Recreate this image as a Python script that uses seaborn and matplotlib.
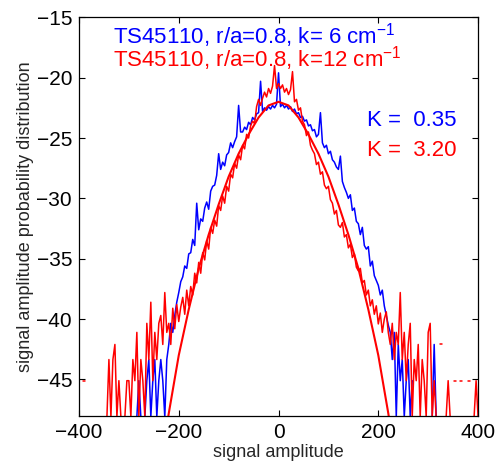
import numpy as np
import pandas as pd
import matplotlib
matplotlib.use("Agg")
import matplotlib.pyplot as plt
import seaborn as sns

# ---------------- data ----------------
# bin centres of the amplitude histogram (signal amplitude)
bin_x = list(range(-400, 401, 4))

# blue: TS45110, r/a=0.8, k=6 cm^-1  (None = empty bin)
blue_pdf = ([None] * 28 +
    [None, -48.1, -45.1, -48.1, None, -48.1, -45.1, -43.35, -48.1, -45.1,
     -43.35, -48.1, -45.1, -43.35, -45.1, -48.1, -43.35, -42.1, -40.35, -41.1,
     -39.7, -38.6] +
    [-37.8, -36.9, -36.5, -35.6, -35.8, -34.6, -34.5, -33.4, -33.9, -30.4,
     -32.6, -31.7, -31.9, -30.8, -30.3, -30.9, -29.4, -29.0, -28.9, -28.1,
     -26.3, -27.6, -27.0, -27.3, -26.4, -26.2, -25.4, -25.8, -25.3, -24.9,
     -22.3, -24.5, -24.5, -24.1, -24.3, -23.7, -23.9, -23.3, -23.5, -23.0,
     -22.9, -20.3, -22.8, -22.5, -22.7, -22.4, -22.6, -22.3, -22.5, -22.2] +
    [-19.6, -22.4, -22.2, -22.5, -22.3, -22.6, -22.4, -22.8, -22.6, -23.0,
     -22.9, -23.3, -23.2, -23.6, -23.5, -24.0, -23.9, -24.4, -24.3, -24.9,
     -24.7, -22.9, -25.4, -25.8, -25.6, -26.3, -26.1, -26.8, -27.0, -27.4,
     -27.6, -26.5, -28.6, -29.1, -29.5, -30.0, -29.7, -31.0, -30.8, -31.9,
     -32.1, -33.0, -32.4, -33.9, -34.2, -34.0, -35.6, -35.2, -36.4, -36.8,
     -37.2, -38.0, -37.6, -38.9, -39.7, -40.5] +
    [-41.1, -43.35, -41.1, -48.1, -42.1, -45.1, -43.35, -48.1, -45.1, -43.35,
     -48.1, -45.1] +
    [None] * 9 + [-48.1, -42.1, -48.1] + [None] * 21)

# red: TS45110, r/a=0.8, k=12 cm^-1  (None = empty bin)
red_pdf = ([None, None, -45.1, -45.1] + [None] * 10 +
    [-48.1, -43.35, -48.1, -43.35, -42.1, -48.1, -45.1, -48.1, None, -48.1,
     -45.1, -45.1, -48.1, -43.35, -45.1, -41.1, -48.1, -43.35, -45.1, -48.1,
     -40.35, -43.35, -38.6, -45.1, -41.1, -43.35, -40.35, -39.7, -42.1, -37.8,
     -41.1, -40.35, -42.1, -39.1, -40.8] +
    [-38.8, -40.2, -39.0, -38.2, -39.6, -37.6, -38.9, -37.3, -38.0, -36.2,
     -37.0, -35.3, -36.2, -34.5, -35.1, -33.5, -34.2, -32.4, -32.9, -31.8,
     -32.3, -30.6, -31.0, -29.8, -30.4, -29.0, -29.4, -28.0, -28.3, -27.1,
     -27.5, -26.4, -26.8, -25.6, -25.9, -24.7, -25.0, -24.0, -23.6, -23.8,
     -22.4, -21.8, -22.3, -21.7, -21.2, -21.6, -20.9, -21.3, -20.7, -19.0,
     -20.9] +
    [-20.5, -20.9, -20.6, -21.2, -20.9, -21.4, -21.0, -19.5, -22.0, -21.8,
     -22.7, -22.5, -23.6, -23.9, -24.8, -24.5, -25.6, -26.0, -26.3, -27.2,
     -27.0, -28.0, -27.8, -28.9, -29.2, -29.0, -30.1, -30.4, -31.3, -31.0,
     -32.2, -32.4, -32.0, -33.2, -33.0, -34.1, -33.8, -34.9, -34.6, -35.7,
     -36.0, -35.8, -37.0, -36.8, -38.0, -37.6, -38.9, -38.4, -39.6, -38.9,
     -40.4, -39.5, -41.1, -40.0, -39.4, -41.1, -42.1, -40.35, -43.35, -41.1,
     -42.1] +
    [-37.8, -43.35, -41.1, -45.1, -42.1, -40.35, -48.1, -43.35, -45.1, -42.1,
     -48.1, -43.35, -45.1, -48.1, -41.1, -40.35, -48.1, -45.1, -48.1, None,
     -42.1, -42.1, None, -48.1, -45.1, -48.1, None, -45.1, -45.1, None,
     -45.1, -45.1, None, None, -45.1, -45.1, None, -48.1, -45.1, -48.1])

# smooth reference curve (red)
fit_x = [-230, -220, -200, -180, -160, -140, -120, -100, -80, -60, -40, -20, 0,
         20, 40, 60, 80, 100, 120, 140, 160, 180, 200, 220, 230]
fit_y = [-50.5, -47.8, -43.0, -39.2, -35.8, -33.0, -30.5, -28.2, -26.3, -24.7, -23.3, -22.3, -22.0,
         -22.3, -23.3, -24.7, -26.3, -28.2, -30.5, -33.0, -35.8, -39.2, -43.0, -47.8, -50.5]

label_blue = "TS45110, r/a=0.8, k= 6 cm$^{-1}$"
label_red = "TS45110, r/a=0.8, k=12 cm$^{-1}$"
kurt_blue = "K =  0.35"
kurt_red = "K =  3.20"
x_ticks = [-400, -200, 0, 200, 400]
y_ticks = [-45, -40, -35, -30, -25, -20, -15]


def segments(xs, ys):
    """Split a series at empty bins so that gaps stay gaps."""
    rows, seg = [], 0
    for x, y in zip(xs, ys):
        if y is None:
            seg += 1
            continue
        rows.append((x, y, seg))
    return pd.DataFrame(rows, columns=["x", "y", "seg"])


# ---------------- style ----------------
sns.set_theme(style="ticks")
plt.rcParams["font.family"] = ["Liberation Sans", "DejaVu Sans"]
plt.rcParams["mathtext.default"] = "regular"
plt.rcParams["axes.unicode_minus"] = True

fig = plt.figure(figsize=(4.98, 4.61), dpi=100)
ax = fig.add_axes([0.1586, 0.0983, 0.8014, 0.8642])

df_b = segments(bin_x, blue_pdf)
df_r = segments(bin_x, red_pdf)
sns.lineplot(data=df_b, x="x", y="y", units="seg", estimator=None,
             color=(0, 0, 1), lw=1.1, ax=ax)
sns.lineplot(data=df_r, x="x", y="y", units="seg", estimator=None,
             color=(1, 0, 0), lw=1.1, ax=ax)
sns.lineplot(x=fit_x, y=fit_y, color=(1, 0, 0), lw=1.5, ax=ax)

ax.set_xlim(-400, 400)
ax.set_ylim(-48, -15)
ax.set_xticks(x_ticks)
ax.set_yticks(y_ticks)
ax.tick_params(direction="in", length=4, width=0.8, top=True, right=True,
               labelsize=15, colors="black", pad=5)
for s in ax.spines.values():
    s.set_color("black")
    s.set_linewidth(0.9)

ax.set_xlabel("signal amplitude", fontsize=13, labelpad=2)
ax.set_ylabel("signal amplitude probability distribution", fontsize=13, labelpad=2)

ax.text(-332, -17.15, label_blue, color=(0, 0, 1), fontsize=16, va="baseline")
ax.text(-332, -19.09, label_red, color=(1, 0, 0), fontsize=16, va="baseline")
ax.text(178, -23.99, kurt_blue, color=(0, 0, 1), fontsize=16, va="baseline")
ax.text(178, -26.47, kurt_red, color=(1, 0, 0), fontsize=16, va="baseline")

fig.savefig("out.png", dpi=100)
